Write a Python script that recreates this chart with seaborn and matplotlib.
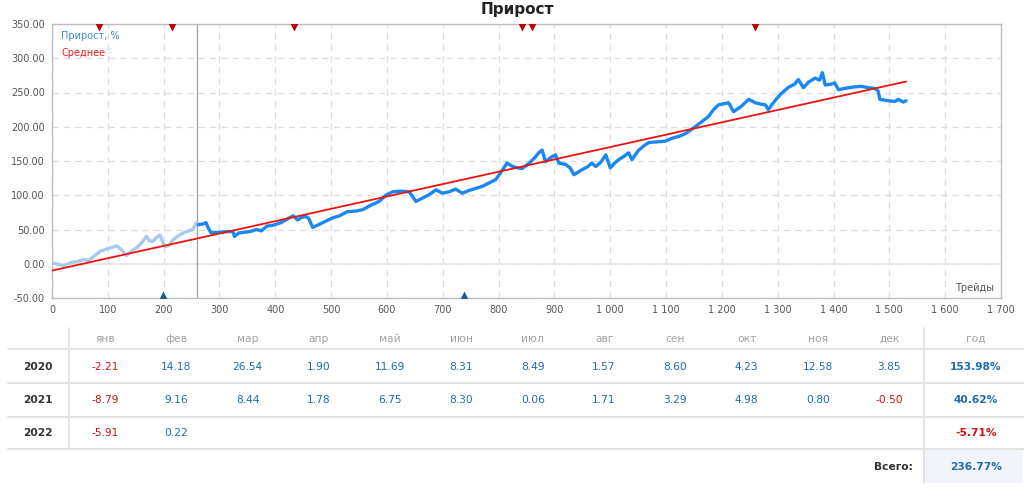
"""
Прирост: кривая доходности по трейдам + таблица помесячного прироста.
"""
import numpy as np
import pandas as pd
import matplotlib
matplotlib.use("Agg")
import matplotlib.pyplot as plt
from matplotlib.ticker import FuncFormatter, MultipleLocator
import seaborn as sns

# ── data ─────────────────────────────────────────────
# история до начала теста (светлая часть)
hist_trades = [0, 8, 20, 35, 45, 56, 65, 74, 86, 100, 116, 125, 133, 142, 151,
               160, 169, 175, 181, 187, 193, 202, 210, 217, 225, 235, 245, 252,
               259, 262]
hist_growth = [1, 0, -3, 2, 3, 6, 5, 10, 18, 22, 26, 20, 12, 18, 23,
               30, 40, 33, 33, 38, 42, 25, 27, 35, 40, 45, 48, 50,
               60, 57]

main_trades = [262, 270, 276, 280, 285, 300, 315, 324, 327, 335, 345, 355, 366,
               375, 385, 395, 410, 425, 432, 440, 448, 455, 460, 467, 480, 490,
               503, 515, 529, 545, 557, 570, 586, 598, 610, 625, 640, 646, 652,
               664, 676, 688, 699, 711, 723, 735, 747, 759, 771, 783, 795, 807,
               815, 825, 834, 842, 855, 865, 872, 878, 884, 893, 902, 908, 920,
               928, 935, 949, 960, 967, 974, 983, 992, 1000, 1008, 1015, 1025,
               1033, 1039, 1050, 1060, 1069, 1085, 1099, 1110, 1123, 1135, 1152,
               1165, 1176, 1185, 1194, 1212, 1221, 1235, 1248, 1260, 1270, 1278,
               1283, 1295, 1307, 1320, 1330, 1337, 1346, 1355, 1367, 1375, 1380,
               1385, 1395, 1402, 1409, 1420, 1435, 1450, 1462, 1474, 1480, 1483,
               1498, 1510, 1516, 1525, 1530]
main_growth = [57, 58, 60, 52, 45, 46, 47, 47, 40, 45, 46, 47, 50,
               48, 55, 56, 60, 67, 70, 64, 68, 69, 66, 53, 58, 62,
               67, 70, 76, 77, 79, 85, 91, 100, 105, 106, 105, 98, 91,
               96, 101, 108, 103, 105, 109, 103, 107, 110, 113, 118, 123, 137,
               147, 142, 140, 139, 147, 155, 162, 166, 149, 155, 159, 147, 145,
               140, 130, 137, 142, 147, 142, 148, 159, 140, 147, 152, 157,
               162, 152, 165, 172, 177, 178, 179, 183, 186, 190, 200,
               208, 215, 225, 232, 235, 222, 230, 240, 235, 233, 232,
               225, 238, 249, 258, 262, 269, 257, 265, 271, 268, 279,
               261, 262, 264, 254, 256, 258, 259, 257, 256, 252, 240,
               238, 237, 240, 236, 238]

avg_trades = [0, 1530]
avg_growth = [-10, 266]

test_start = 260
sell_marks = [84, 215, 433, 842, 860, 1260]
buy_marks = [198, 738]

months = ["янв", "фев", "мар", "апр", "май", "июн",
          "июл", "авг", "сен", "окт", "ноя", "дек"]
years = ["2020", "2021", "2022"]
monthly = [
    [-2.21, 14.18, 26.54, 1.90, 11.69, 8.31, 8.49, 1.57, 8.60, 4.23, 12.58, 3.85],
    [-8.79, 9.16, 8.44, 1.78, 6.75, 8.30, 0.06, 1.71, 3.29, 4.98, 0.80, -0.50],
    [-5.91, 0.22, None, None, None, None, None, None, None, None, None, None],
]
year_total = [153.98, 40.62, -5.71]
grand_total = 236.77

# ── style ────────────────────────────────────────────
sns.set_style("white")
plt.rcParams["font.family"] = ["DejaVu Sans"]

BLUE = "#1a88f0"
LIGHT = "#a9c9ea"
RED = "#f01010"
GRID = "#dcdcdc"
POS = "#1f6bb0"
NEG = "#cc1414"

fig = plt.figure(figsize=(10.24, 4.95), dpi=100)
ax = fig.add_axes([52 / 1024, 1 - 298 / 495, 949 / 1024, 274 / 495])

df_hist = pd.DataFrame({"trade": hist_trades, "growth": hist_growth})
df_main = pd.DataFrame({"trade": main_trades, "growth": main_growth})
df_avg = pd.DataFrame({"trade": avg_trades, "growth": avg_growth})

ax.axhline(0, color="#e8e8e8", lw=1.5, zorder=1)
sns.lineplot(data=df_hist, x="trade", y="growth", ax=ax, color=LIGHT, lw=2.4,
             estimator=None, sort=False, zorder=3)
sns.lineplot(data=df_main, x="trade", y="growth", ax=ax, color=BLUE, lw=2.4,
             estimator=None, sort=False, zorder=3)
sns.lineplot(data=df_avg, x="trade", y="growth", ax=ax, color=RED, lw=1.3,
             estimator=None, sort=False, zorder=4)
ax.axvline(test_start, color="#a0a0a0", lw=0.9, zorder=2)

ax.plot(sell_marks, [350] * len(sell_marks), "v", color="#b80000", ms=10,
        mec="none", zorder=5)
ax.plot(buy_marks, [-50] * len(buy_marks), "^", color="#1c5a94", ms=10,
        mec="none", zorder=5)

ax.set_xlim(0, 1700)
ax.set_ylim(-50, 350)
ax.xaxis.set_major_locator(MultipleLocator(100))
ax.yaxis.set_major_locator(MultipleLocator(50))
ax.xaxis.set_major_formatter(FuncFormatter(lambda v, p: f"{v:,.0f}".replace(",", " ")))
ax.yaxis.set_major_formatter(FuncFormatter(lambda v, p: f"{v:.2f}"))
ax.grid(True, color=GRID, lw=0.9, ls=(0, (5, 4)))
ax.set_axisbelow(True)
ax.tick_params(length=0, labelsize=7, colors="#555555", pad=5)
ax.set_xlabel(""); ax.set_ylabel("")
for s in ax.spines.values():
    s.set_color("#bdbdbd"); s.set_linewidth(1.0)

ax.text(0.01, 0.955, "Прирост, %", transform=ax.transAxes, color="#3b8ae0",
        fontsize=7, va="center")
ax.text(0.01, 0.895, "Среднее", transform=ax.transAxes, color="#e82020",
        fontsize=7, va="center")
ax.text(0.993, 0.02, "Трейды", transform=ax.transAxes, color="#555555",
        fontsize=7, ha="right", va="bottom")

fig.text(0.505, 1 - 14 / 495, "Прирост", ha="center", va="baseline",
         fontsize=11, fontweight="bold", color="#222222")

# ── table ────────────────────────────────────────────
tab = fig.add_axes([0, 0, 1, 1], zorder=-1)
tab.set_xlim(0, 1024); tab.set_ylim(495, 0); tab.axis("off")

col_x = [105 + i * 71.3 for i in range(12)]
year_x, tot_x = 38, 976
row_y = [367, 400, 433]
head_y, sum_y = 339, 467
fs = 7.7

tab.add_patch(plt.Rectangle((925, 450), 97, 33, color="#f1f5fb", lw=0))
for yy in [349, 383, 417, 449]:
    tab.plot([8, 1024], [yy, yy], color="#e3e3e3", lw=1.4)
tab.plot([69, 69], [328, 449], color="#e3e3e3", lw=1.4)
tab.plot([924, 924], [328, 483], color="#e3e3e3", lw=1.4)

for m, x in zip(months, col_x):
    tab.text(x, head_y, m, ha="center", va="center", fontsize=fs, color="#a0a0a0")
tab.text(tot_x, head_y, "год", ha="center", va="center", fontsize=fs, color="#a0a0a0")

for yr, vals, tot, y in zip(years, monthly, year_total, row_y):
    tab.text(year_x, y, yr, ha="center", va="center", fontsize=fs,
             fontweight="bold", color="#333333")
    for v, x in zip(vals, col_x):
        if v is None:
            continue
        tab.text(x, y, f"{v:.2f}", ha="center", va="center", fontsize=fs,
                 color=NEG if v < 0 else POS)
    tab.text(tot_x, y, f"{tot:.2f}%", ha="center", va="center", fontsize=fs,
             fontweight="bold", color=NEG if tot < 0 else POS)

tab.text(913, sum_y, "Всего:", ha="right", va="center", fontsize=fs,
         fontweight="bold", color="#333333")
tab.text(tot_x, sum_y, f"{grand_total:.2f}%", ha="center", va="center",
         fontsize=fs, fontweight="bold", color=POS)

fig.savefig("out.png", dpi=100)
plt.close(fig)
